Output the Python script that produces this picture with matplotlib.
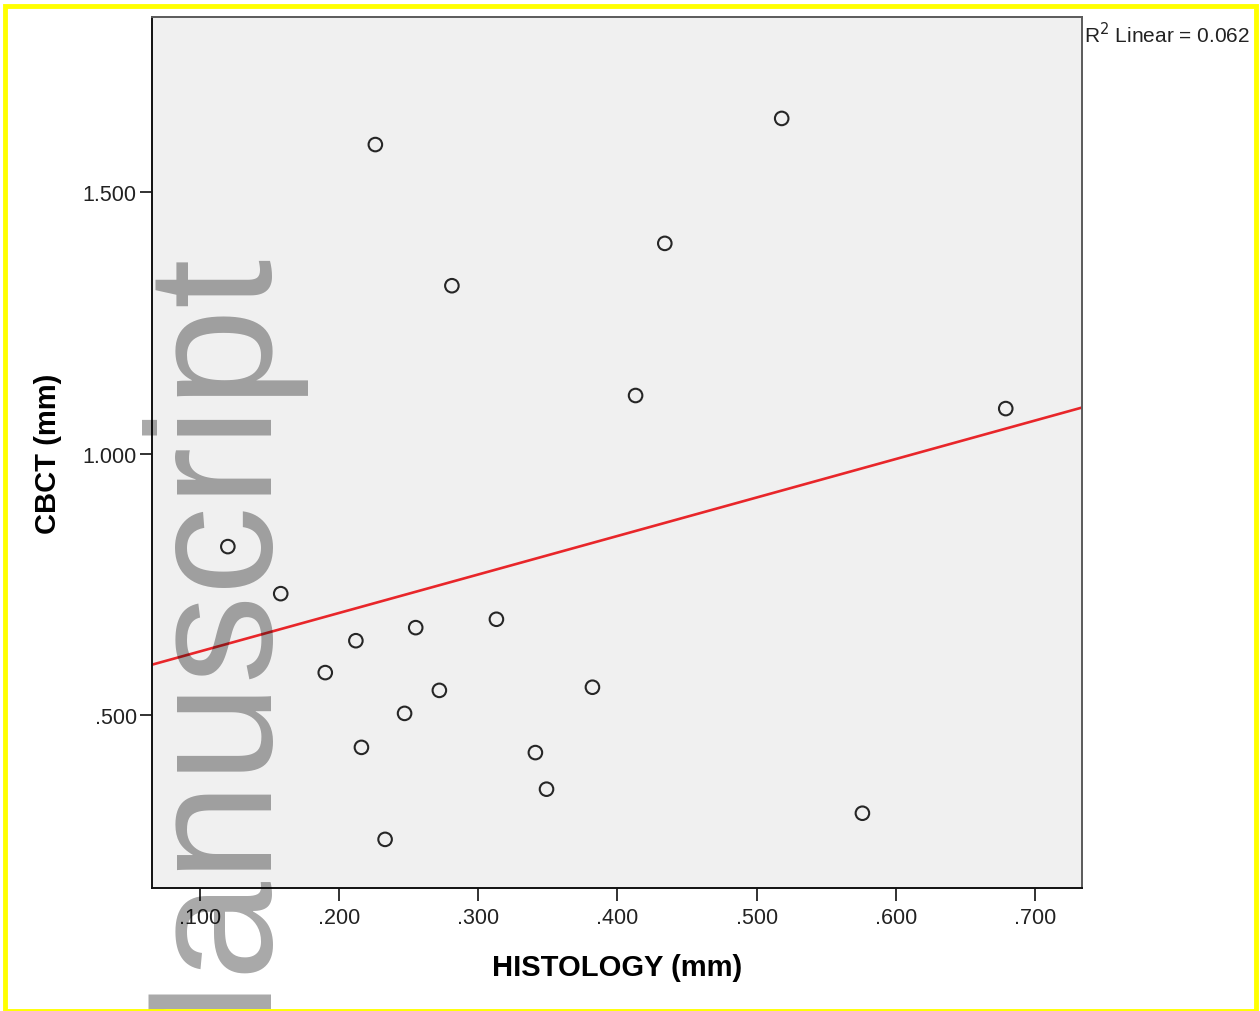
import numpy as np
import matplotlib
matplotlib.use("Agg")
import matplotlib.pyplot as plt
from matplotlib.ticker import FuncFormatter
from matplotlib.patches import Rectangle

plt.rcParams['font.family'] = ['Liberation Sans', 'DejaVu Sans']

# values
histology = [0.226, 0.518, 0.434, 0.281, 0.413, 0.679, 0.120, 0.158, 0.212, 0.255,
             0.313, 0.190, 0.272, 0.382, 0.247, 0.216, 0.341, 0.349, 0.233, 0.576]
cbct = [1.591, 1.641, 1.402, 1.321, 1.111, 1.086, 0.822, 0.732, 0.642, 0.667,
        0.683, 0.581, 0.547, 0.553, 0.503, 0.438, 0.428, 0.358, 0.262, 0.312]
x_ticks = [0.1, 0.2, 0.3, 0.4, 0.5, 0.6, 0.7]
y_ticks = [0.5, 1.0, 1.5]
r2_text = "R$^2$ Linear = 0.062"

W, H = 1260, 1012
fig = plt.figure(figsize=(W / 100, H / 100), dpi=100)
ax = fig.add_axes([152 / W, 1 - 889 / H, 930 / W, 871 / H])
ax.set_facecolor('#f0f0f0')

ax.scatter(histology, cbct, s=95, facecolors='none', edgecolors='#262626',
           linewidths=1.5, zorder=3)

xlim = (0.0655, 0.7338)
ylim = (0.169, 1.835)
slope, icpt = np.polyfit(histology, cbct, 1)
xs = np.array(xlim)
ax.plot(xs, slope * xs + icpt, color='#e8262a', lw=1.9, zorder=2)
ax.set_xlim(xlim)
ax.set_ylim(ylim)

def no_lead_zero(v, pos):
    s = "%.3f" % v
    return s[1:] if s.startswith("0") else s

ax.set_xticks(x_ticks)
ax.set_yticks(y_ticks)
ax.xaxis.set_major_formatter(FuncFormatter(no_lead_zero))
ax.yaxis.set_major_formatter(FuncFormatter(no_lead_zero))
ax.tick_params(direction='out', length=9, width=1.3, labelsize=15.5,
               colors='#222222', pad=5)
ax.tick_params(axis='y', pad=2)

for side in ['left', 'bottom']:
    ax.spines[side].set_color('#111111')
    ax.spines[side].set_linewidth(1.4)
for side in ['top', 'right']:
    ax.spines[side].set_color('#5a5a5a')
    ax.spines[side].set_linewidth(1.4)

ax.set_xlabel("HISTOLOGY (mm)", fontsize=21, fontweight='bold', labelpad=18)
ax.set_ylabel("CBCT (mm)", fontsize=21, fontweight='bold')
ax.yaxis.set_label_coords(-0.097, 0.5)

fig.text(1084 / W, 1 - 22 / H, r2_text, fontsize=15, ha='left', va='top',
         color='#222222')

# watermark
fig.text(257 / W, 1 - 244 / H, "Manuscript", rotation=90, rotation_mode='anchor',
         ha='right', va='baseline', fontsize=128, color='black', alpha=0.34,
         zorder=10)

# yellow border
fig.patches.append(Rectangle((5 / W, 0.5 / H), (W - 9) / W, (H - 7) / H,
                             transform=fig.transFigure, fill=False,
                             edgecolor='#ffff00', lw=3.5, zorder=20))

fig.savefig("out.png", dpi=100)
